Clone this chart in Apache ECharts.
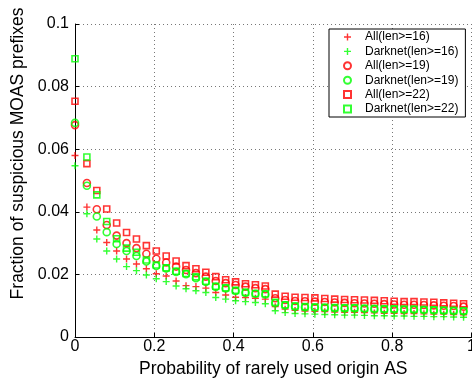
<!DOCTYPE html>
<html>
<head>
<meta charset="utf-8">
<script src="https://cdn.jsdelivr.net/npm/echarts@6/dist/echarts.min.js"></script>
<style>
  html, body { margin: 0; padding: 0; background: #fff; }
  #chart-container { width: 472px; height: 382px; }
</style>
</head>
<body>
<div id="chart-container"></div>
<script>
// probability values (x) shared by all series
var probs = [0, 0.03, 0.055, 0.08, 0.105, 0.13, 0.155, 0.18, 0.205, 0.23,
  0.255, 0.28, 0.305, 0.33, 0.355, 0.38, 0.405, 0.43, 0.455, 0.48,
  0.505, 0.53, 0.555, 0.58, 0.605, 0.63, 0.655, 0.68, 0.705, 0.73,
  0.755, 0.78, 0.805, 0.83, 0.855, 0.88, 0.905, 0.93, 0.955, 0.98];

var all16 = [0.058, 0.0415, 0.0342, 0.0302, 0.0275, 0.0249, 0.0233, 0.0218, 0.0202, 0.0195,
  0.0179, 0.0164, 0.0161, 0.0156, 0.0142, 0.0134, 0.0127, 0.0126, 0.0124, 0.0121,
  0.0097, 0.0089, 0.0085, 0.0083, 0.0082, 0.0081, 0.0080, 0.0079, 0.0079, 0.0078,
  0.0077, 0.0076, 0.0076, 0.0075, 0.0075, 0.0074, 0.0073, 0.0073, 0.0072, 0.0071];
var dark16 = [0.0547, 0.0394, 0.0313, 0.0275, 0.0249, 0.0225, 0.0212, 0.0198, 0.0186, 0.0177,
  0.0163, 0.0154, 0.0148, 0.0142, 0.0126, 0.0121, 0.0116, 0.0113, 0.0110, 0.0106,
  0.0084, 0.0078, 0.0075, 0.0074, 0.0073, 0.0072, 0.0071, 0.0070, 0.0070, 0.0069,
  0.0068, 0.0068, 0.0067, 0.0067, 0.0066, 0.0066, 0.0065, 0.0065, 0.0064, 0.0063];
var all19 = [0.0677, 0.0492, 0.0408, 0.0358, 0.0324, 0.0300, 0.0284, 0.0266, 0.0250, 0.0238,
  0.0225, 0.0214, 0.0204, 0.0193, 0.0179, 0.0172, 0.0166, 0.0161, 0.0156, 0.0153,
  0.0124, 0.0118, 0.0115, 0.0114, 0.0113, 0.0112, 0.0110, 0.0109, 0.0108, 0.0107,
  0.0106, 0.0105, 0.0104, 0.0103, 0.0103, 0.0102, 0.0101, 0.0100, 0.0099, 0.0097];
var dark19 = [0.0684, 0.0483, 0.0385, 0.0335, 0.0297, 0.0275, 0.0259, 0.0241, 0.0227, 0.0219,
  0.0208, 0.0201, 0.0188, 0.0176, 0.0160, 0.0155, 0.0147, 0.0141, 0.0138, 0.0136,
  0.0108, 0.0101, 0.0097, 0.0095, 0.0094, 0.0093, 0.0092, 0.0091, 0.0091, 0.0090,
  0.0089, 0.0088, 0.0088, 0.0087, 0.0087, 0.0086, 0.0085, 0.0084, 0.0083, 0.0082];
var all22 = [0.0753, 0.0554, 0.0468, 0.0409, 0.0364, 0.0334, 0.0313, 0.0292, 0.0275, 0.0259,
  0.0243, 0.0228, 0.0218, 0.0207, 0.0193, 0.0183, 0.0176, 0.0170, 0.0167, 0.0163,
  0.0137, 0.0130, 0.0127, 0.0126, 0.0125, 0.0123, 0.0121, 0.0120, 0.0119, 0.0118,
  0.0117, 0.0116, 0.0114, 0.0113, 0.0113, 0.0112, 0.0111, 0.0109, 0.0108, 0.0106];
var dark22 = [0.0889, 0.0575, 0.0454, 0.0369, 0.0314, 0.0284, 0.0271, 0.0246, 0.0230, 0.0221,
  0.0210, 0.0203, 0.0192, 0.0178, 0.0162, 0.0157, 0.0149, 0.0143, 0.0139, 0.0138,
  0.0111, 0.0103, 0.0099, 0.0097, 0.0096, 0.0095, 0.0094, 0.0093, 0.0093, 0.0092,
  0.0091, 0.0090, 0.0090, 0.0089, 0.0089, 0.0088, 0.0087, 0.0086, 0.0085, 0.0084];

var seriesNames = ['All(len>=16)', 'Darknet(len>=16)', 'All(len>=19)',
  'Darknet(len>=19)', 'All(len>=22)', 'Darknet(len>=22)'];

var plusPath = 'path://M2.8,0H4.2V2.8H7V4.2H4.2V7H2.8V4.2H0V2.8H2.8Z';
var fontName = '"Liberation Sans", Arial, Helvetica, sans-serif';

var pares = function (ys) {
  return probs.map(function (x, i) { return [x, ys[i]]; });
};

var plusSerie = function (name, ys, cor) {
  return {
    name: name, type: 'scatter', data: pares(ys),
    symbol: plusPath, symbolSize: 7,
    itemStyle: { color: cor }
  };
};
var hollowSerie = function (name, ys, cor, simbolo, tam) {
  return {
    name: name, type: 'scatter', data: pares(ys),
    symbol: simbolo, symbolSize: tam,
    itemStyle: { color: 'transparent', borderColor: cor, borderWidth: 1.6 }
  };
};

var dom = document.getElementById('chart-container');
var myChart = echarts.init(dom, null, { renderer: 'canvas' });

var option = {
  animation: false,
  backgroundColor: '#fff',
  textStyle: { fontFamily: fontName },
  grid: { left: 75, right: 0.5, top: 24, bottom: 45, containLabel: false, outerBoundsMode: 'none' },
  legend: {
    orient: 'vertical', left: 329, top: 29,
    padding: [2, 7, 2, 14],
    itemWidth: 7, itemHeight: 7, itemGap: 2.4,
    backgroundColor: '#fff', borderColor: '#000', borderWidth: 1,
    textStyle: { fontSize: 12, color: '#000', fontFamily: fontName, lineHeight: 12, padding: [0, 0, 0, 9] },
    data: seriesNames
  },
  xAxis: {
    type: 'value', min: 0, max: 1, interval: 0.2,
    name: 'Probability of rarely used origin AS', nameLocation: 'middle', nameGap: 21,
    nameTextStyle: { fontSize: 17.5, color: '#000', fontFamily: fontName },
    axisLine: { lineStyle: { color: '#000', width: 1 } },
    axisTick: { inside: true, length: 4, lineStyle: { color: '#000' } },
    axisLabel: { fontSize: 16, color: '#000', margin: 2, fontFamily: fontName },
    splitLine: { show: true, lineStyle: { color: '#777', type: [1, 3] } }
  },
  yAxis: {
    type: 'value', min: 0, max: 0.1, interval: 0.02,
    name: 'Fraction of suspicious MOAS prefixes', nameLocation: 'middle', nameGap: 43,
    nameTextStyle: { fontSize: 17.5, color: '#000', fontFamily: fontName, padding: [0, 0, 0, 54] },
    axisLine: { show: true, lineStyle: { color: '#000', width: 1 } },
    axisTick: { show: true, inside: true, length: 4, lineStyle: { color: '#000' } },
    axisLabel: { fontSize: 16, color: '#000', margin: 6, fontFamily: fontName },
    splitLine: { show: true, lineStyle: { color: '#777', type: [1, 3] } }
  },
  series: [
    plusSerie(seriesNames[0], all16, '#ff0000'),
    plusSerie(seriesNames[1], dark16, '#00ff00'),
    hollowSerie(seriesNames[2], all19, '#ff0000', 'circle', 7),
    hollowSerie(seriesNames[3], dark19, '#00ff00', 'circle', 7),
    hollowSerie(seriesNames[4], all22, '#ff0000', 'rect', 6),
    hollowSerie(seriesNames[5], dark22, '#00ff00', 'rect', 6)
  ]
};

if (option && typeof option === 'object') {
  myChart.setOption(option);
}

window.addEventListener('resize', myChart.resize);
</script>
</body>
</html>
